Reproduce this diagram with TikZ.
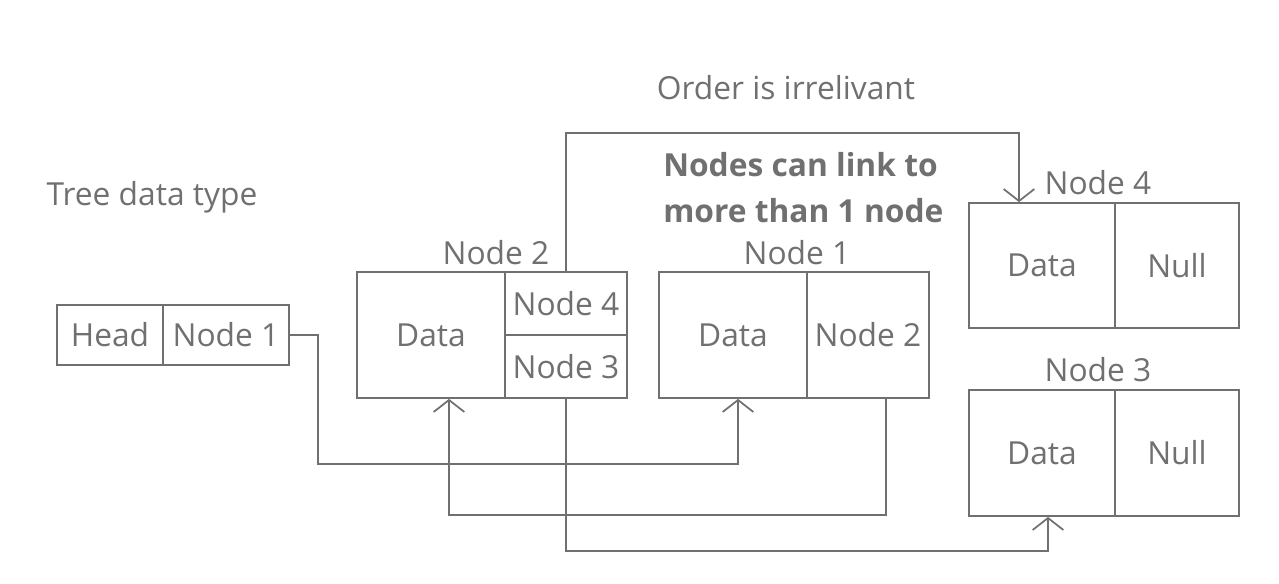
\documentclass[tikz,border=0pt]{standalone}
\usepackage{fontspec}
\setmainfont{Open Sans}
\usetikzlibrary{arrows.meta,positioning}
\definecolor{linegray}{RGB}{112,112,112}
\definecolor{textgray}{RGB}{112,112,112}

\begin{document}
\begin{tikzpicture}[x=0.75pt, y=-0.75pt,
	cell/.style={draw=linegray, line width=1.3pt, text=textgray, inner sep=0pt, minimum height=94.5pt, font=\fontsize{23.8}{28}\selectfont},
	lbl/.style={text=textgray, inner sep=0pt, font=\fontsize{23.8}{28}\selectfont},
	link/.style={draw=linegray, line width=1.3pt, -{Straight Barb[length=9pt, width=23pt, line width=1.3pt]}}]
	\useasboundingbox (0,0) rectangle (1279,583);

	\node[lbl] (title) at (152,197) {Tree data type};
	\node[lbl] (order) at (786,88) {Order is irrelivant};
	\node[lbl, font=\fontsize{23.8}{34.5}\selectfont\bfseries, align=left, anchor=west] (note) at (663,188) {Nodes can link to\\more than 1 node};

	% head
	\node[cell, minimum width=79.5pt, minimum height=45pt] (head) at (110,335) {Head};
	\node[cell, minimum width=94.5pt, minimum height=45pt] (h1) at (226,335) {Node 1};

	% node 2
	\node[cell, minimum width=111pt] (n2data) at (431,335) {Data};
	\node[cell, minimum width=91.5pt, minimum height=47.25pt] (n2n4) at (566,303.5) {Node 4};
	\node[cell, minimum width=91.5pt, minimum height=47.25pt] (n2n3) at (566,366.5) {Node 3};
	\node[lbl] (n2lbl) at (496,253) {Node 2};

	% node 1
	\node[cell, minimum width=111pt] (n1data) at (733,335) {Data};
	\node[cell, minimum width=91.5pt] (n1n2) at (868,335) {Node 2};
	\node[lbl] (n1lbl) at (797,253) {Node 1};

	% node 4
	\node[cell, minimum width=109.5pt, minimum height=93.75pt] (n4data) at (1042,265.5) {Data};
	\node[cell, minimum width=93pt, minimum height=93.75pt] (n4null) at (1177,265.5) {Null};
	\node[lbl] (n4lbl) at (1098,183) {Node 4};

	% node 3
	\node[cell, minimum width=109.5pt] (n3data) at (1042,453) {Data};
	\node[cell, minimum width=93pt] (n3null) at (1177,453) {Null};
	\node[lbl] (n3lbl) at (1098,370) {Node 3};

	% links
	\coordinate (c1) at (318,464);
	\coordinate (c2) at (449,515);
	\coordinate (c3) at (1019,133);
	\coordinate (c4) at (1048,551);
	\draw[link] (h1.east) -| (c1) -| ([xshift=3.75pt]n1data.south);
	\draw[link] ([xshift=13.5pt]n1n2.south) |- (c2) -- ([xshift=13.5pt]n2data.south);
	\draw[link] (n2n4.north) |- (c3) -- ([xshift=-17.25pt]n4data.north);
	\draw[link] (n2n3.south) |- (c4) -- ([xshift=4.5pt]n3data.south);
\end{tikzpicture}
\end{document}
